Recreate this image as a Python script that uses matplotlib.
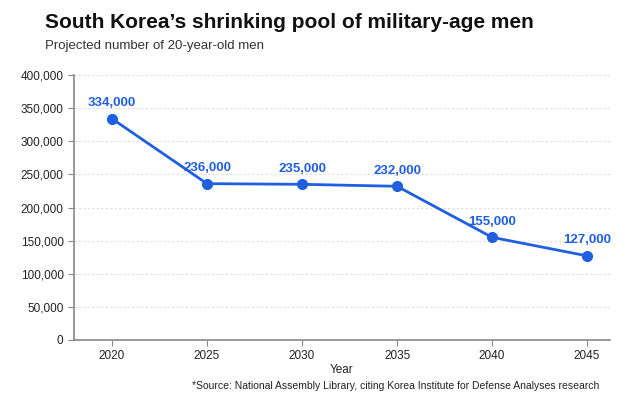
import matplotlib.pyplot as plt
from matplotlib.ticker import FuncFormatter

plt.rcParams["font.family"] = ["Liberation Sans", "DejaVu Sans"]

# Data
years = [2020, 2025, 2030, 2035, 2040, 2045]
men = [334000, 236000, 235000, 232000, 155000, 127000]
labels = ["334,000", "236,000", "235,000", "232,000", "155,000", "127,000"]

blue = "#1f5fe0"
gray = "#888888"

fig = plt.figure(figsize=(6.4, 4), dpi=100)
ax = fig.add_axes([0.1156, 0.15, 0.8374, 0.6625])

ax.plot(years, men, color=blue, lw=2, marker="o", ms=7, zorder=3)
for x, y, t in zip(years, men, labels):
    ax.annotate(t, (x, y), xytext=(0, 7), textcoords="offset points",
                ha="center", va="bottom", color=blue, fontsize=9.5,
                fontweight="bold")

ax.set_xlim(2018, 2046.2)
ax.set_ylim(0, 400000)
ax.set_xticks(years)
ax.set_yticks(range(0, 400001, 50000))
ax.yaxis.set_major_formatter(FuncFormatter(lambda v, p: f"{int(v):,}"))
ax.grid(axis="y", color="#dddddd", ls=(0, (2, 2)), lw=0.8)
ax.set_axisbelow(True)

for s in ["top", "right"]:
    ax.spines[s].set_visible(False)
for s in ["left", "bottom"]:
    ax.spines[s].set_color(gray)
    ax.spines[s].set_linewidth(1.2)
ax.tick_params(colors=gray, labelcolor="#222222", labelsize=8.5, length=4)
ax.set_xlabel("Year", fontsize=8.5, color="#222222", labelpad=1)

fig.text(0.07, 0.945, "South Korea\u2019s shrinking pool of military-age men",
         fontsize=15, fontweight="bold", color="#111111", va="center")
fig.text(0.07, 0.885, "Projected number of 20-year-old men",
         fontsize=9.5, color="#333333", va="center")
fig.text(0.937, 0.035,
         "*Source: National Assembly Library, citing Korea Institute for Defense Analyses research",
         fontsize=7.5, color="#222222", ha="right", va="center")

fig.savefig("out.png", dpi=100)
